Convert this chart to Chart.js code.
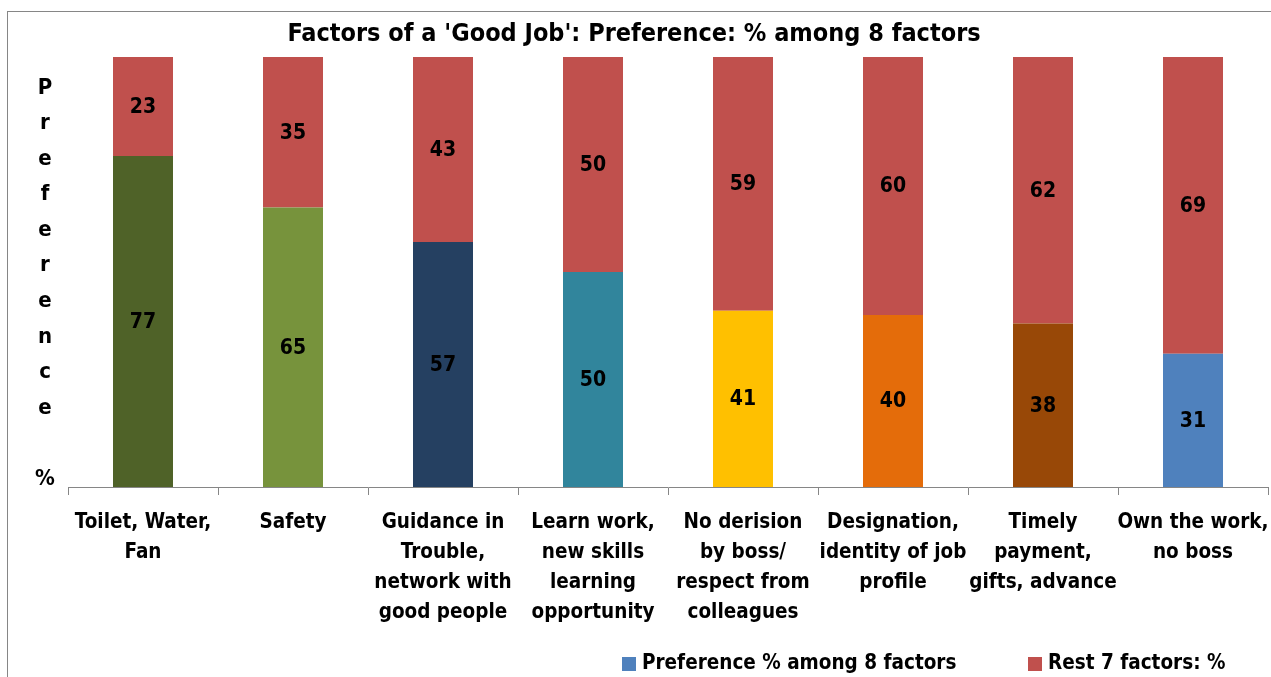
<!DOCTYPE html>
<html>
<head>
<meta charset="utf-8">
<script src="https://cdn.jsdelivr.net/npm/chart.js@4.4.0/dist/chart.umd.min.js"></script>
<style>
  html, body { margin: 0; padding: 0; background: #fff; overflow: hidden; }
  #wrap { position: relative; width: 1271px; height: 677px; }
</style>
</head>
<body>
<div id="wrap"><canvas id="c" width="1271" height="677"></canvas></div>
<script>
// ---- data ----
const categories = [
  ["Toilet, Water,", "Fan"],
  ["Safety"],
  ["Guidance in", "Trouble,", "network with", "good people"],
  ["Learn work,", "new skills", "learning", "opportunity"],
  ["No derision", "by boss/", "respect from", "colleagues"],
  ["Designation,", "identity of job", "profile"],
  ["Timely", "payment,", "gifts, advance"],
  ["Own the work,", "no boss"]
];
const preference = [77, 65, 57, 50, 41, 40, 38, 31];
const rest = [23, 35, 43, 50, 59, 60, 62, 69];
const seriesNames = ["Preference % among 8 factors", "Rest 7 factors: %"];
const chartTitle = "Factors of a 'Good Job': Preference: % among 8 factors";
const yAxisTitle = "Preference %";

// ---- styling ----
const preferenceColors = ['#4F6228', '#77933C', '#254061', '#31859C', '#FFC000', '#E46C0A', '#984807', '#4F81BD'];
const restColor = '#C0504D';
const legendColors = ['#4F81BD', '#C0504D'];
const FONT = "'Liberation Sans Narrow', 'Arial Narrow', 'DejaVu Sans Condensed', sans-serif";
const axisGray = '#868686';

// outer frame and white background
const framePlugin = {
  id: 'frame',
  beforeDraw(chart) {
    const ctx = chart.ctx;
    ctx.save();
    ctx.fillStyle = '#fff';
    ctx.fillRect(0, 0, chart.width, chart.height);
    ctx.strokeStyle = axisGray;
    ctx.lineWidth = 1;
    ctx.strokeRect(7.5, 11.5, chart.width + 20, chart.height + 20);
    ctx.restore();
  }
};

// value labels centred in every segment
const valueLabels = {
  id: 'valueLabels',
  afterDatasetsDraw(chart) {
    const ctx = chart.ctx;
    ctx.save();
    ctx.font = `bold 21px ${FONT}`;
    ctx.fillStyle = '#000';
    ctx.textAlign = 'center';
    ctx.textBaseline = 'middle';
    chart.data.datasets.forEach((ds, di) => {
      chart.getDatasetMeta(di).data.forEach((bar, i) => {
        ctx.fillText(String(ds.data[i]), bar.x, (bar.y + bar.base) / 2 + 1);
      });
    });
    ctx.restore();
  }
};

// vertical, letter-stacked axis title
const stackedAxisTitle = {
  id: 'stackedAxisTitle',
  afterDraw(chart) {
    const ctx = chart.ctx;
    const area = chart.chartArea;
    const chars = yAxisTitle.split('');
    const first = area.top + 31;
    const step = (area.bottom - 8 - first) / (chars.length - 1);
    ctx.save();
    ctx.font = `bold 22px ${FONT}`;
    ctx.fillStyle = '#000';
    ctx.textAlign = 'center';
    ctx.textBaseline = 'middle';
    chars.forEach((ch, i) => {
      if (ch.trim()) ctx.fillText(ch, 45, first + i * step);
    });
    ctx.restore();
  }
};

// bottom legend
const bottomLegend = {
  id: 'bottomLegend',
  afterDraw(chart) {
    const ctx = chart.ctx;
    const xs = [622, 1028];
    const y = 664;
    ctx.save();
    ctx.font = `bold 20.5px ${FONT}`;
    ctx.textBaseline = 'middle';
    ctx.textAlign = 'left';
    chart.data.datasets.forEach((ds, i) => {
      ctx.fillStyle = legendColors[i];
      ctx.fillRect(xs[i], y - 7, 14, 14);
      ctx.fillStyle = '#000';
      ctx.fillText(ds.label, xs[i] + 20, y);
    });
    ctx.restore();
  }
};

new Chart(document.getElementById('c'), {
  type: 'bar',
  data: {
    labels: categories,
    datasets: [
      { label: seriesNames[0], data: preference, backgroundColor: preferenceColors, borderWidth: 0 },
      { label: seriesNames[1], data: rest, backgroundColor: restColor, borderWidth: 0 }
    ]
  },
  options: {
    responsive: false,
    animation: false,
    devicePixelRatio: 1,
    layout: { padding: { left: 0, right: 3, top: 0, bottom: 0 } },
    datasets: { bar: { categoryPercentage: 0.8, barPercentage: 0.5 } },
    plugins: {
      legend: { display: false },
      tooltip: { enabled: false },
      title: {
        display: true,
        text: chartTitle,
        color: '#000',
        font: { family: FONT, size: 25, weight: 'bold', lineHeight: 1.2 },
        padding: { top: 19, bottom: 8 }
      }
    },
    scales: {
      x: {
        stacked: true,
        grid: { offset: true, drawOnChartArea: false, drawTicks: true, tickLength: 8, color: axisGray },
        border: { display: true, color: axisGray },
        ticks: {
          color: '#000',
          font: { family: FONT, size: 20.5, weight: 'bold', lineHeight: 30 / 20.5 },
          padding: 13,
          maxRotation: 0,
          autoSkip: false
        },
        afterFit(scale) {
          scale.height = 190;
          scale.paddingLeft = 0;
          scale.paddingRight = 0;
        }
      },
      y: {
        stacked: true,
        min: 0,
        max: 100,
        grid: { display: false },
        border: { display: false },
        ticks: { display: false },
        afterFit(scale) { scale.width = 68; }
      }
    }
  },
  plugins: [framePlugin, valueLabels, stackedAxisTitle, bottomLegend]
});
</script>
</body>
</html>
